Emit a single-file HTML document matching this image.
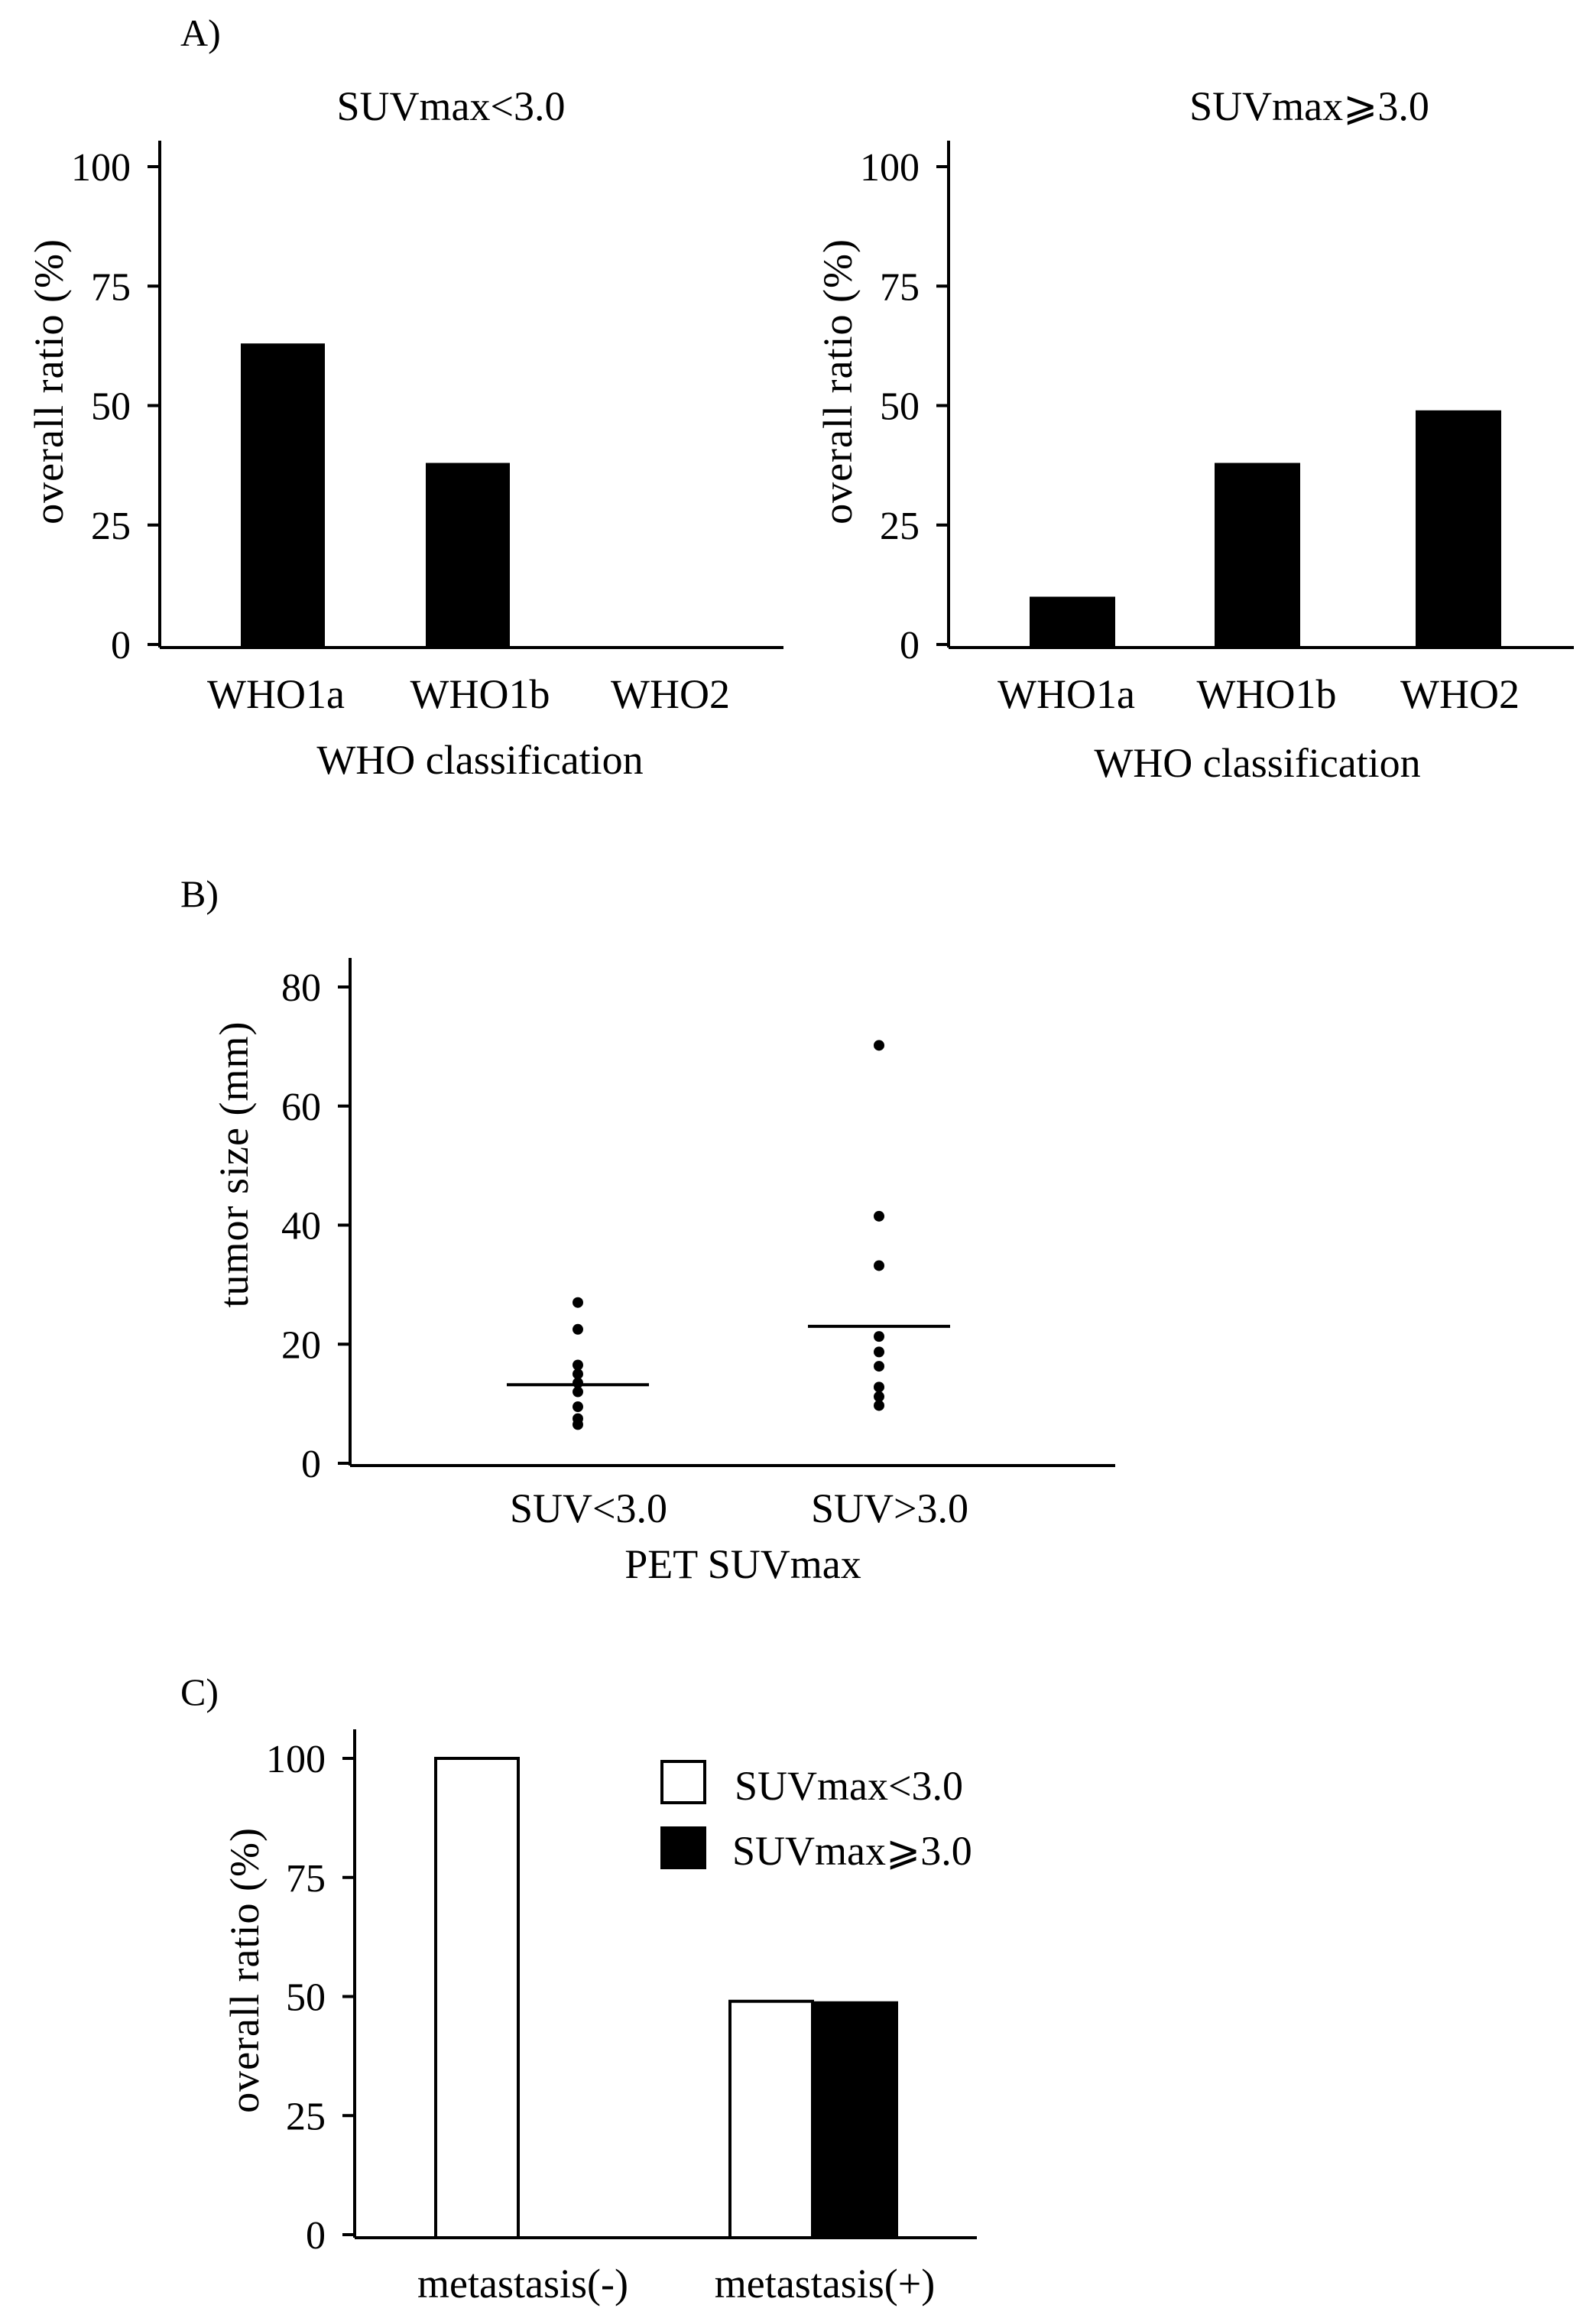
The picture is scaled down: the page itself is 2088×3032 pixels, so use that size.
<!DOCTYPE html>
<html><head><meta charset="utf-8"><style>
html,body{margin:0;padding:0;background:#fff;}
svg{display:block;}
text{font-family:"Liberation Serif","DejaVu Serif",serif;fill:#000;}
</style></head><body>
<svg id="fig" width="2088" height="3032" viewBox="0 0 2088 3032" xmlns="http://www.w3.org/2000/svg">
<rect width="2088" height="3032" fill="#fff"/>
</svg>
<script>
// Panel A data
const whoCategories = ["WHO1a","WHO1b","WHO2"];
const lowSuvValues = [63, 38, 0];
const highSuvValues = [10, 38, 49];
const ratioTicks = [0,25,50,75,100];
// Panel B data
const sizeGroups = ["SUV<3.0","SUV>3.0"];
const sizeLowSuv = [27, 22.5, 16.5, 15, 13.5, 12, 9.5, 7.5, 6.5];
const sizeHighSuv = [70.2, 41.5, 33.2, 21.3, 18.7, 16.3, 12.8, 11.2, 9.7];
const sizeMeans = [13.2, 23];
const sizeTicks = [0,20,40,60,80];
// Panel C data
const metaCategories = ["metastasis(-)","metastasis(+)"];
const metaLowSuv = [100, 49];
const metaHighSuv = [0, 49];

const FS = 54;
const TS = 52;
const YS = 54;
const svg = document.getElementById('fig');
const NS = "http://www.w3.org/2000/svg";
function mk(tag, attrs, parent){
  const e = document.createElementNS(NS, tag);
  for (const k in attrs) e.setAttribute(k, attrs[k]);
  (parent||svg).appendChild(e);
  return e;
}
function txt(s, x, y, size, anchor, parent, ls){
  const t = mk('text', {x:x, y:y, 'font-size':size, 'text-anchor':anchor||'middle'}, parent);
  if (ls) t.setAttribute('letter-spacing', ls);
  t.textContent = s;
  return t;
}
function lin(x1,y1,x2,y2,w,parent){
  return mk('line',{x1:x1,y1:y1,x2:x2,y2:y2,stroke:'#000','stroke-width':w||4},parent);
}

function barPanel(name, axisX, axisTop, xEnd, y0, y100, values, barLefts, barW, title, titleX, labelXs, ylabX, xtitleX, xtitleY){
  const g = mk('g',{});
  
  
  const yS = v => y0 + (y100 - y0) * v / 100;
  const t = txt(title, titleX, 157, FS, 'middle', g);
  
  
  const ya = lin(axisX, axisTop, axisX, y0+4, 4, g);
  
  
  const xa = lin(axisX, y0+4, xEnd, y0+4, 4, g);
  
  
  ratioTicks.forEach(v => {
    const y = yS(v);
    lin(axisX-16, y, axisX, y, 4, g);
    const tl = txt(String(v), axisX-38, y+18, TS, 'end', g);
    
    
  });
  values.forEach((v,i) => {
    if (v > 0) {
      const r = mk('rect',{x:barLefts[i], y:yS(v), width:barW, height:y0+4-yS(v), fill:'#000'}, g);
      
      
    }
    const l = txt(whoCategories[i], labelXs[i], 926, FS, 'middle', g);
    
    
  });
  const xt = txt("WHO classification", xtitleX, xtitleY, FS, 'middle', g);
  
  
  const yl = txt("overall ratio (%)", 0, 0, YS, 'middle', g, 1);
  yl.setAttribute('transform', `translate(${ylabX},499) rotate(-90)`);
  
  
}
const la = txt("A)", 236, 60, FS-4, 'start');


barPanel('panel-a-left', 209, 184, 1025, 843, 218, lowSuvValues, [315,557,800], 110, "SUVmax<3.0", 590, [361,628,877], 82, 628, 1012);
barPanel('panel-a-right', 1241, 184, 2059, 843, 218, highSuvValues, [1347,1589,1852], 112, "SUVmax\u2A7E3.0", 1713, [1395,1657,1910], 1114, 1645, 1016);

(function(){
  const g = mk('g',{});
  
  
  const lb = txt("B)", 236, 1186, FS-4, 'start', g);
  
  
  const axisX = 458, y0 = 1914, y80 = 1291, xEnd = 1459;
  const yS = v => y0 + (y80 - y0) * v / 80;
  const gx = [756, 1150];
  const ya = lin(axisX, 1253, axisX, y0+3, 4, g);
  
  
  const xa = lin(axisX, y0+3, xEnd, y0+3, 4, g);
  
  
  sizeTicks.forEach(v => {
    const y = yS(v);
    lin(axisX-16, y, axisX, y, 4, g);
    const tl = txt(String(v), axisX-38, y+18, TS, 'end', g);
    
    
  });
  [sizeLowSuv, sizeHighSuv].forEach((arr, gi) => {
    arr.forEach(v => {
      const c = mk('circle',{cx:gx[gi], cy:yS(v), r:7, fill:'#000'}, g);
      
      
    });
    const m = lin(gx[gi]-93, yS(sizeMeans[gi]), gx[gi]+93, yS(sizeMeans[gi]), 4, g);
    
    
    const l = txt(sizeGroups[gi], gx[gi]+14, 1991, FS, 'middle', g);
    
    
  });
  const xt = txt("PET SUVmax", 972, 2064, FS, 'middle', g);
  
  
  const yl = txt("tumor size (mm)", 0, 0, YS, 'middle', g, 1);
  yl.setAttribute('transform', 'translate(324,1523) rotate(-90)');
  
  
})();

(function(){
  const g = mk('g',{});
  
  
  const lc = txt("C)", 236, 2230, FS-4, 'start', g);
  
  
  const axisX = 464, y0 = 2923, y100 = 2300, xEnd = 1278;
  const yS = v => y0 + (y100 - y0) * v / 100;
  const ya = lin(axisX, 2262, axisX, y0+4, 4, g);
  
  
  const xa = lin(axisX, y0+4, xEnd, y0+4, 4, g);
  
  
  ratioTicks.forEach(v => {
    const y = yS(v);
    lin(axisX-16, y, axisX, y, 4, g);
    const tl = txt(String(v), axisX-38, y+18, TS, 'end', g);
    
    
  });
  const lowLeft = [570, 955], highLeft = [1061, 1061];
  metaCategories.forEach((c, i) => {
    if (metaLowSuv[i] > 0) {
      const r = mk('rect',{x:lowLeft[i], y:yS(metaLowSuv[i]), width:108, height:y0+4-yS(metaLowSuv[i]), fill:'#fff', stroke:'#000', 'stroke-width':4}, g);
      
      
    }
    if (metaHighSuv[i] > 0) {
      const r = mk('rect',{x:highLeft[i], y:yS(metaHighSuv[i]), width:114, height:y0+4-yS(metaHighSuv[i]), fill:'#000'}, g);
      
      
    }
    const l = txt(c, [684, 1079][i], 3005, FS, 'middle', g);
    
    
  });
  const yl = txt("overall ratio (%)", 0, 0, YS, 'middle', g, 1);
  yl.setAttribute('transform', 'translate(338,2577) rotate(-90)');
  
  
  const lg = mk('g',{}, g);
  
  
  const b1 = mk('rect',{x:866, y:2304, width:56, height:54, fill:'#fff', stroke:'#000', 'stroke-width':4}, lg);
  
  
  const b2 = mk('rect',{x:864, y:2389, width:60, height:56, fill:'#000'}, lg);
  
  
  const t1 = txt("SUVmax<3.0", 961, 2354, FS, 'start', lg);
  
  
  const t2 = txt("SUVmax\u2A7E3.0", 958, 2439, FS, 'start', lg);
  
  
})();
</script>
</body></html>
